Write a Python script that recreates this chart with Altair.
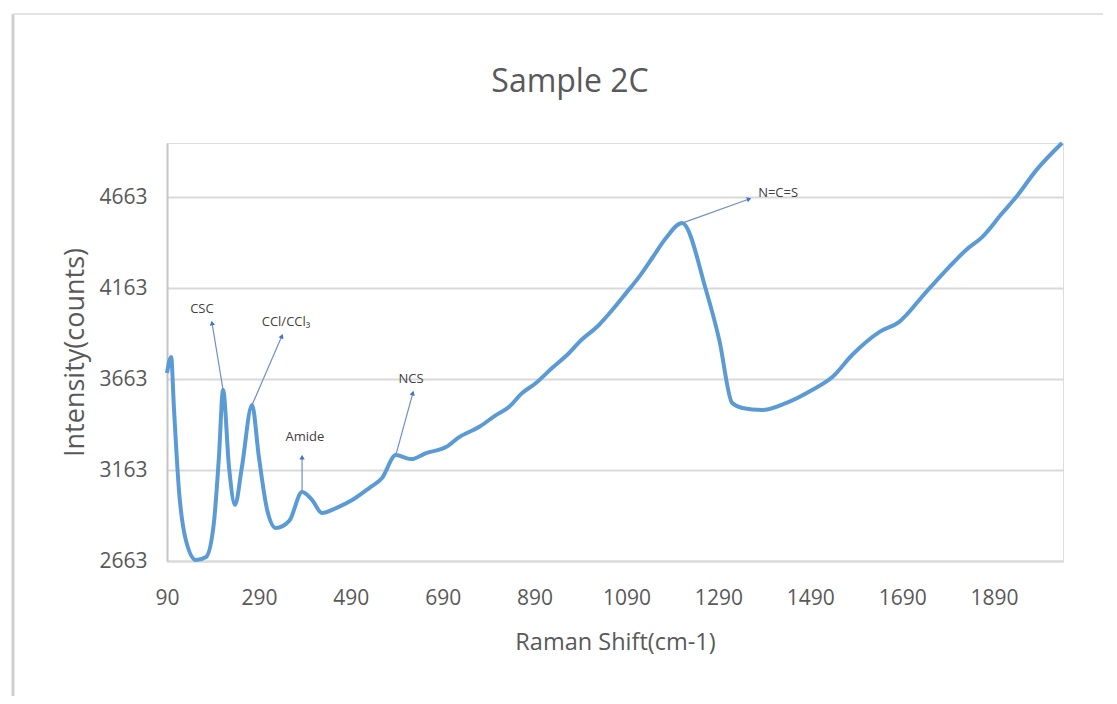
import altair as alt
import pandas as pd

# Spectrum
raman_shift = [90, 99, 105, 116, 131, 153, 175, 192, 203, 212, 225, 238, 253, 275, 290,
               308, 327, 356, 384, 406, 427, 458, 493, 530, 558, 588, 621, 654, 697, 726,
               769, 806, 834, 863, 893, 928, 965, 987, 1030, 1059, 1089, 1117, 1146, 1176,
               1211, 1263, 1292, 1320, 1342, 1385, 1437, 1494, 1538, 1581, 1640, 1683,
               1742, 1792, 1829, 1864, 1908, 1938, 1982, 2038]
intensity = [3696, 3784, 3509, 3053, 2778, 2668, 2685, 2872, 3234, 3603, 3179, 2971, 3179,
             3520, 3234, 2943, 2844, 2883, 3042, 2998, 2927, 2954, 2998, 3064, 3119, 3245,
             3223, 3256, 3289, 3344, 3399, 3465, 3509, 3586, 3641, 3723, 3806, 3866, 3960,
             4042, 4135, 4223, 4328, 4438, 4520, 4152, 3877, 3531, 3504, 3493, 3531, 3603,
             3674, 3795, 3921, 3976, 4141, 4278, 4372, 4443, 4575, 4663, 4811, 4960]

# Axis ticks
x_ticks = [90, 290, 490, 690, 890, 1090, 1290, 1490, 1690, 1890]
y_ticks = [2663, 3163, 3663, 4163, 4663]

# Annotations
ann_labels = ["CSC", "CCl/CCl₃", "Amide", "NCS", "N=C=S"]
ann_label_x = [166, 349, 390, 621, 1420]
ann_label_y = [4048, 3976, 3344, 3663, 4685]
ann_from_x = [212, 275, 384, 588, 1211]
ann_from_y = [3603, 3520, 3042, 3245, 4520]
ann_to_x = [188, 340, 384, 625, 1357]
ann_to_y = [3971, 3899, 3234, 3586, 4652]
ann_angle = [351, 23, 0, 15, 70]

chart_title = "Sample 2C"

spec_df = pd.DataFrame({"shift": raman_shift, "intensity": intensity})
ann_df = pd.DataFrame({
    "label": ann_labels, "lx": ann_label_x, "ly": ann_label_y,
    "fx": ann_from_x, "fy": ann_from_y, "tx": ann_to_x, "ty": ann_to_y,
    "angle": ann_angle,
})

FONT = "Open Sans"
GREY = "#595959"

xscale = alt.Scale(domain=[90, 2040], nice=False, zero=False)
yscale = alt.Scale(domain=[2663, 4960], nice=False, zero=False)

x_axis = alt.Axis(values=x_ticks, format="d", grid=False, ticks=False, tickSize=0, domain=True,
                  domainColor="#D9D9D9", domainWidth=2, labelFont=FONT, labelFontSize=21,
                  labelColor=GREY, labelPadding=26, labelFlush=False,
                  title="Raman Shift(cm-1)", titleFont=FONT, titleFontSize=23.5,
                  titleFontWeight="normal", titleColor=GREY, titlePadding=22)
y_axis = alt.Axis(values=y_ticks, format="d", grid=True, gridColor="#D9D9D9", gridWidth=2,
                  ticks=False, tickSize=0, domain=True, domainColor="#C4C4C4", domainWidth=2,
                  labelFont=FONT, labelFontSize=21, labelColor=GREY, labelPadding=20,
                  title="Intensity(counts)", titleFont=FONT, titleFontSize=27,
                  titleFontWeight="normal", titleColor=GREY, titlePadding=9)

line = alt.Chart(spec_df).mark_line(color="#5B9BD5", strokeWidth=4, interpolate="monotone").encode(
    x=alt.X("shift:Q", scale=xscale, axis=x_axis),
    y=alt.Y("intensity:Q", scale=yscale, axis=y_axis),
)

arrows = alt.Chart(ann_df).mark_rule(color="#6F8FC7", strokeWidth=1.2).encode(
    x=alt.X("fx:Q", scale=xscale), y=alt.Y("fy:Q", scale=yscale),
    x2="tx:Q", y2="ty:Q",
)

heads = alt.Chart(ann_df).mark_point(shape="triangle-up", filled=True, size=28,
                                      color="#4472C4", opacity=1).encode(
    x=alt.X("tx:Q", scale=xscale), y=alt.Y("ty:Q", scale=yscale),
    angle=alt.Angle("angle:Q", scale=None),
)

texts = alt.Chart(ann_df).mark_text(font=FONT, fontSize=13, color="#404040",
                                     align="center", baseline="middle").encode(
    x=alt.X("lx:Q", scale=xscale), y=alt.Y("ly:Q", scale=yscale), text="label:N",
)

one = pd.DataFrame({"a": [0]})
title_mark = alt.Chart(one).mark_text(font=FONT, fontSize=32, color=GREY, align="center",
                                      baseline="alphabetic", text=chart_title).encode(
    x=alt.value(403), y=alt.value(-51))
card_left = alt.Chart(one).mark_rule(color="#CFCFCF", strokeWidth=3).encode(
    x=alt.value(-154), y=alt.value(-129), y2=alt.value(560))
card_top = alt.Chart(one).mark_rule(color="#E3E3E3", strokeWidth=2).encode(
    x=alt.value(-154), x2=alt.value(941), y=alt.value(-129))

chart = alt.layer(card_left, card_top, title_mark, line, arrows, heads, texts).properties(
    width=896, height=418,
    autosize=alt.AutoSizeParams(type="none"),
    padding={"left": 159, "top": 135, "right": 40, "bottom": 135},
).configure_view(stroke=None).configure(background="white")

chart.save("out.html", embed_options={"renderer": "svg", "actions": False})
